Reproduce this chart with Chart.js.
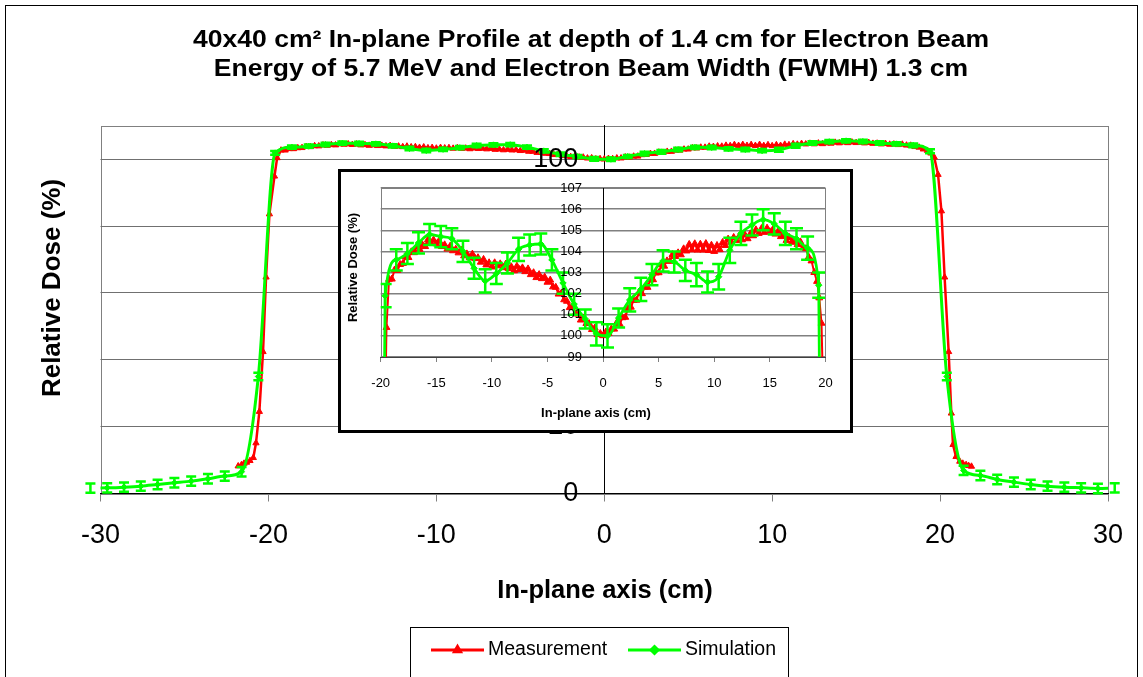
<!DOCTYPE html>
<html>
<head>
<meta charset="utf-8">
<script src="https://cdn.jsdelivr.net/npm/chart.js@4.4.1/dist/chart.umd.min.js"></script>
<style>
html,body{margin:0;padding:0;background:#fff;}
#wrap{position:relative;width:1143px;height:677px;overflow:hidden;background:#fff;}
#main{position:absolute;left:0;top:0;}
#insetBox{position:absolute;left:338px;top:169px;width:515px;height:264px;box-sizing:border-box;border:3px solid #000;background:#fff;}
#inset{position:absolute;left:0;top:0;}
</style>
</head>
<body>
<div id="wrap">
<canvas id="main" width="1143" height="677"></canvas>
<div id="insetBox"><canvas id="inset" width="509" height="258"></canvas></div>
</div>
<script>
const FONT = "'Liberation Sans', Arial, Helvetica, sans-serif";

// ---- text ----
const titleLines = [
  '40x40 cm\u00B2 In-plane Profile at depth of 1.4 cm for Electron Beam',
  'Energy of 5.7 MeV and Electron Beam Width (FWMH) 1.3 cm'
];
const xAxisTitle = 'In-plane axis (cm)';
const yAxisTitle = 'Relative Dose (%)';
const seriesNames = ['Measurement', 'Simulation'];

// ---- tick labels ----
const mainXTicks = [-30, -20, -10, 0, 10, 20, 30];
const mainYTicks = [0, 20, 40, 60, 80, 100];
const insetXTicks = [-20, -15, -10, -5, 0, 5, 10, 15, 20];
const insetYTicks = [99, 100, 101, 102, 103, 104, 105, 106, 107];

// ---- Measurement series ----
const measX = [
  -21.8,-21.6,-21.45,-21.3,-21.1,-20.9,-20.74,-20.54,-20.32,-20.14,-19.94,-19.64,-19.48,
  -19.25,-19,-18.75,-18.5,-18.25,-18,-17.75,-17.5,-17.25,-17,
  -16.75,-16.5,-16.25,-16,-15.75,-15.5,-15.25,-15,-14.75,-14.5,
  -14.25,-14,-13.75,-13.5,-13.25,-13,-12.75,-12.5,-12.25,-12,
  -11.75,-11.5,-11.25,-11,-10.75,-10.5,-10.25,-10,-9.75,-9.5,
  -9.25,-9,-8.75,-8.5,-8.25,-8,-7.75,-7.5,-7.25,-7,
  -6.75,-6.5,-6.25,-6,-5.75,-5.5,-5.25,-5,-4.75,-4.5,
  -4.25,-4,-3.75,-3.5,-3.25,-3,-2.75,-2.5,-2.25,-2,
  -1.75,-1.5,-1.25,-1,-0.75,-0.5,-0.25,0,0.25,0.5,
  0.75,1,1.25,1.5,1.75,2,2.25,2.5,2.75,3,
  3.25,3.5,3.75,4,4.25,4.5,4.75,5,5.25,5.5,
  5.75,6,6.25,6.5,6.75,7,7.25,7.5,7.75,8,
  8.25,8.5,8.75,9,9.25,9.5,9.75,10,10.25,10.5,
  10.75,11,11.25,11.5,11.75,12,12.25,12.5,12.75,13,
  13.25,13.5,13.75,14,14.25,14.5,14.75,15,15.25,15.5,
  15.75,16,16.25,16.5,16.75,17,17.25,17.5,17.75,18,
  18.25,18.5,18.75,19,19.25,
  19.45,19.65,19.88,20.08,20.27,20.51,20.67,20.77,20.95,21.17,21.35,21.55,21.7,21.87
];
const measY = [
  8.2,8.6,9.0,9.3,9.8,10.7,15.1,24.5,42.4,64.7,83.6,94.9,100.4,
  102.68,102.69,103.12,103.10,103.38,103.43,103.75,103.71,103.98,103.94,
  104.22,104.10,104.31,104.23,104.55,104.43,104.54,104.36,104.50,104.23,
  104.31,104.11,104.25,104.03,104.10,103.93,104.05,103.79,103.88,103.70,
  103.87,103.66,103.70,103.49,103.62,103.36,103.46,103.26,103.46,103.32,
  103.41,103.23,103.40,103.18,103.27,103.08,103.30,103.14,103.22,103.04,
  103.17,102.90,102.99,102.76,102.90,102.71,102.78,102.54,102.64,102.32,
  102.30,101.98,102.02,101.71,101.64,101.34,101.39,101.05,101.03,100.75,
  100.85,100.59,100.58,100.30,100.37,100.06,100.11,100.01,100.18,100.12,
  100.33,100.32,100.64,100.55,100.86,100.88,101.30,101.36,101.68,101.69,
  102.07,102.00,102.30,102.30,102.65,102.66,102.98,102.99,103.37,103.30,
  103.55,103.53,103.85,103.76,103.93,103.84,104.12,104.02,104.33,104.07,
  104.36,104.06,104.34,104.06,104.37,104.04,104.29,104.00,104.28,104.08,
  104.42,104.28,104.58,104.43,104.66,104.52,104.72,104.55,104.79,104.60,
  104.83,104.74,105.02,104.85,105.08,104.90,105.10,104.93,105.01,104.82,
  104.96,104.70,104.75,104.52,104.66,104.43,104.50,104.32,104.45,104.17,
  104.13,103.73,103.55,103.00,102.58,
  101.8,100.6,95.4,84.5,64.7,42.4,24.0,14.6,11.0,9.6,9.0,8.6,8.3,8.1
];

// ---- Simulation series (with error bars) ----
const simX = [
  -30.6,-29.6,-28.6,-27.6,-26.6,-25.6,-24.6,-23.6,-22.6,-21.6,
  -20.6,
  -19.6,-18.6,-17.6,-16.6,-15.6,-14.6,-13.6,-12.6,-11.6,-10.6,
  -9.6,-8.6,-7.6,-6.6,-5.6,-4.6,-3.6,-2.6,-1.6,-0.6,
  0.4,1.4,2.4,3.4,4.4,5.4,6.4,7.4,8.4,9.4,
  10.4,11.4,12.4,13.4,14.4,15.4,16.4,17.4,18.4,19.4,
  20.4,
  21.4,22.4,23.4,24.4,25.4,26.4,27.4,28.4,29.4,30.4
];
const simY = [
  1.6,1.7,1.9,2.2,2.7,3.2,3.7,4.4,5.2,6.5,
  35.0,
  101.9,103.6,103.9,104.4,104.8,104.7,104.6,104.0,103.2,102.6,
  102.95,103.45,104.1,104.3,104.35,103.6,102.5,101.5,100.8,100.1,
  100.0,100.85,101.7,102.2,102.9,103.55,103.5,103.1,102.9,102.55,
  102.8,104.05,104.85,105.25,105.5,105.3,104.85,104.6,104.15,102.4,
  35.0,
  6.9,5.4,4.2,3.4,2.7,2.2,1.9,1.7,1.5,1.7
];
const simErr = [
  1.4,1.4,1.4,1.4,1.4,1.4,1.4,1.4,1.4,1.4,
  1.1,
  0.55,0.5,0.5,0.5,0.5,0.5,0.5,0.5,0.5,0.55,
  0.5,0.5,0.55,0.5,0.5,0.5,0.5,0.5,0.45,0.55,
  0.55,0.45,0.55,0.55,0.5,0.5,0.5,0.5,0.55,0.5,
  0.6,0.6,0.55,0.5,0.5,0.5,0.55,0.5,0.55,0.6,
  1.1,
  1.4,1.4,1.4,1.4,1.4,1.4,1.4,1.4,1.4,1.4
];

const seriesColors = ['#FF0000', '#00FF00'];

Chart.defaults.font.family = FONT;
Chart.defaults.color = '#000';

const measPoints = () => measX.map((x, i) => ({x: x, y: measY[i]}));
const simPoints = () => simX.map((x, i) => ({x: x, y: simY[i]}));

// ---- plugins ----
const errorBars = {
  id: 'errorBars',
  afterDatasetsDraw(chart, args, opts) {
    const ctx = chart.ctx, a = chart.chartArea;
    ctx.save();
    if (opts.clip) {
      ctx.beginPath();
      ctx.rect(a.left, a.top, a.right - a.left, a.bottom - a.top);
      ctx.clip();
    }
    chart.data.datasets.forEach((ds, di) => {
      if (!ds.errors) return;
      const meta = chart.getDatasetMeta(di);
      const xs = chart.scales[meta.xAxisID], ys = chart.scales[meta.yAxisID];
      ctx.strokeStyle = ds.borderColor;
      ctx.lineWidth = opts.lineWidth;
      ds.data.forEach((p, i) => {
        const e = ds.errors[i];
        const px = xs.getPixelForValue(p.x);
        const y1 = ys.getPixelForValue(p.y + e), y2 = ys.getPixelForValue(p.y - e);
        ctx.beginPath();
        ctx.moveTo(px, y1); ctx.lineTo(px, y2);
        ctx.moveTo(px - opts.cap, y1); ctx.lineTo(px + opts.cap, y1);
        ctx.moveTo(px - opts.cap, y2); ctx.lineTo(px + opts.cap, y2);
        ctx.stroke();
      });
    });
    ctx.restore();
  }
};

function plotFrame(chart, color) {
  const ctx = chart.ctx, a = chart.chartArea;
  ctx.save();
  ctx.fillStyle = '#fff';
  ctx.fillRect(0, 0, chart.width, chart.height);
  ctx.strokeStyle = color;
  ctx.lineWidth = 1;
  ctx.strokeRect(Math.round(a.left) + 0.5, Math.round(a.top) + 0.5,
                 Math.round(a.right) - Math.round(a.left), Math.round(a.bottom) - Math.round(a.top));
  ctx.restore();
}

function drawText(ctx, text, x, y, font, rot, targetW) {
  ctx.save();
  ctx.font = font;
  ctx.fillStyle = '#000';
  ctx.textAlign = 'center';
  ctx.textBaseline = 'middle';
  ctx.translate(x, y);
  if (rot) ctx.rotate(rot);
  if (targetW) {
    const w = ctx.measureText(text).width;
    ctx.scale(targetW / w, 1);
  }
  ctx.fillText(text, 0, 0);
  ctx.restore();
}

// y tick labels next to the centred y axis (value axis crosses at x = 0)
function drawYTickLabels(chart, values, gap, font) {
  const ctx = chart.ctx, xs = chart.scales.x, ys = chart.scales.y;
  const ax = xs.getPixelForValue(0);
  ctx.save();
  ctx.font = font;
  ctx.fillStyle = '#000';
  ctx.textAlign = 'right';
  ctx.textBaseline = 'middle';
  values.forEach(v => ctx.fillText(String(v), ax - gap, ys.getPixelForValue(v)));
  ctx.restore();
}

const mainDecor = {
  id: 'mainDecor',
  beforeDraw(chart) { plotFrame(chart, '#808080'); },
  afterDraw(chart) {
    const ctx = chart.ctx;
    drawYTickLabels(chart, mainYTicks, 26, '27px ' + FONT);
    // title
    ctx.save();
    ctx.font = 'bold 24px ' + FONT;
    const w1 = ctx.measureText(titleLines[0]).width;
    const w2 = ctx.measureText(titleLines[1]).width;
    ctx.restore();
    const sx = 796 / w1;
    drawText(ctx, titleLines[0], 591, 40.5, 'bold 24px ' + FONT, 0, w1 * sx);
    drawText(ctx, titleLines[1], 591, 69, 'bold 24px ' + FONT, 0, w2 * sx);
    // axis titles
    drawText(ctx, yAxisTitle, 52.5, 288, 'bold 26px ' + FONT, -Math.PI / 2);
    drawText(ctx, xAxisTitle, 605, 591, 'bold 25.5px ' + FONT, 0);
    // legend
    ctx.save();
    ctx.strokeStyle = '#000';
    ctx.lineWidth = 1;
    ctx.strokeRect(410.5, 627.5, 378, 80);
    const items = [
      {x0: 431, x1: 484, tx: 488},
      {x0: 628, x1: 681, tx: 685}
    ];
    chart.data.datasets.forEach((ds, i) => {
      const it = items[i], ly = 650;
      ctx.strokeStyle = ds.borderColor;
      ctx.fillStyle = ds.borderColor;
      ctx.lineWidth = 3;
      ctx.beginPath();
      ctx.moveTo(it.x0, ly); ctx.lineTo(it.x1, ly);
      ctx.stroke();
      Chart.helpers.drawPoint(ctx, {pointStyle: ds.pointStyle, radius: 3.5, borderWidth: 1, rotation: 0}, (it.x0 + it.x1) / 2, ly);
      ctx.fillStyle = '#000';
      ctx.font = '19.5px ' + FONT;
      ctx.textAlign = 'left';
      ctx.textBaseline = 'middle';
      ctx.fillText(ds.label, it.tx, ly);
    });
    // outer border
    ctx.strokeStyle = '#000';
    ctx.lineWidth = 1;
    ctx.strokeRect(5.5, 5.5, 1132, 700);
    ctx.restore();
  }
};

const insetDecor = {
  id: 'insetDecor',
  beforeDraw(chart) { plotFrame(chart, '#808080'); },
  afterDraw(chart) {
    const ctx = chart.ctx;
    drawYTickLabels(chart, insetYTicks, 21, '13px ' + FONT);
    drawText(ctx, xAxisTitle, 255, 241.3, 'bold 13px ' + FONT, 0);
    drawText(ctx, yAxisTitle, 12.5, 95.5, 'bold 13px ' + FONT, -Math.PI / 2);
  }
};

function fitArea(chart, target) {
  for (let k = 0; k < 4; k++) {
    const a = chart.chartArea;
    const p = chart.options.layout.padding;
    p.left += target.left - a.left;
    p.top += target.top - a.top;
    p.right += a.right - target.right;
    p.bottom += a.bottom - target.bottom;
    chart.update('none');
  }
}

// ---- main chart ----
const mainChart = new Chart(document.getElementById('main'), {
  type: 'scatter',
  data: {
    datasets: [
      {
        label: seriesNames[0], data: measPoints(), showLine: true,
        borderColor: seriesColors[0], backgroundColor: seriesColors[0],
        pointBackgroundColor: seriesColors[0], pointBorderColor: seriesColors[0],
        borderWidth: 2.5, pointStyle: 'triangle', pointRadius: 3.6, pointBorderWidth: 1,
        tension: 0, order: 1
      },
      {
        label: seriesNames[1], data: simPoints(), showLine: true, errors: simErr,
        borderColor: seriesColors[1], backgroundColor: seriesColors[1],
        pointBackgroundColor: seriesColors[1], pointBorderColor: seriesColors[1],
        borderWidth: 3, pointStyle: 'rectRot', pointRadius: 3, pointBorderWidth: 1,
        cubicInterpolationMode: 'monotone', order: 0
      }
    ]
  },
  options: {
    responsive: false, animation: false, events: [],
    layout: {padding: {left: 100, right: 35, top: 126, bottom: 120}},
    plugins: {
      legend: {display: false}, tooltip: {enabled: false}, title: {display: false},
      errorBars: {lineWidth: 2.5, cap: 5, clip: false}
    },
    scales: {
      x: {
        type: 'linear', position: 'bottom', min: -30, max: 30,
        afterBuildTicks: s => { s.ticks = mainXTicks.map(v => ({value: v})); },
        ticks: {font: {size: 27}, color: '#000', padding: 18, autoSkip: false, maxRotation: 0},
        grid: {drawOnChartArea: false, drawTicks: true, tickLength: 8, tickColor: '#808080', color: '#808080'},
        border: {display: true, color: '#000', width: 1}
      },
      y: {
        type: 'linear', position: {x: 0}, min: 0, max: 110,
        afterBuildTicks: s => { s.ticks = mainYTicks.map(v => ({value: v})); },
        ticks: {display: false},
        grid: {color: '#707070', lineWidth: 1, drawTicks: false},
        border: {display: true, color: '#000', width: 1}
      }
    }
  },
  plugins: [mainDecor, errorBars]
});
fitArea(mainChart, {left: 100.5, right: 1108, top: 125.8, bottom: 493.5});

// ---- inset chart ----
const insetChart = new Chart(document.getElementById('inset'), {
  type: 'scatter',
  data: {
    datasets: [
      {
        label: seriesNames[0], data: measPoints(), showLine: true,
        borderColor: seriesColors[0], backgroundColor: seriesColors[0],
        pointBackgroundColor: seriesColors[0], pointBorderColor: seriesColors[0],
        borderWidth: 2, pointStyle: 'triangle', pointRadius: 4, pointBorderWidth: 1,
        tension: 0, order: 1
      },
      {
        label: seriesNames[1], data: simPoints(), showLine: true, errors: simErr,
        borderColor: seriesColors[1], backgroundColor: seriesColors[1],
        pointBackgroundColor: seriesColors[1], pointBorderColor: seriesColors[1],
        borderWidth: 2.8, pointStyle: 'rectRot', pointRadius: 3.2, pointBorderWidth: 1,
        cubicInterpolationMode: 'monotone', order: 0
      }
    ]
  },
  options: {
    responsive: false, animation: false, events: [],
    layout: {padding: {left: 40, right: 25, top: 16, bottom: 40}},
    plugins: {
      legend: {display: false}, tooltip: {enabled: false}, title: {display: false},
      errorBars: {lineWidth: 2.5, cap: 6.5, clip: true}
    },
    scales: {
      x: {
        type: 'linear', position: 'bottom', min: -20, max: 20,
        afterBuildTicks: s => { s.ticks = insetXTicks.map(v => ({value: v})); },
        ticks: {font: {size: 13}, color: '#000', padding: 13.5, autoSkip: false, maxRotation: 0},
        grid: {drawOnChartArea: false, drawTicks: true, tickLength: 5, tickColor: '#808080', color: '#808080'},
        border: {display: true, color: '#404040', width: 1}
      },
      y: {
        type: 'linear', position: {x: 0}, min: 99, max: 107,
        afterBuildTicks: s => { s.ticks = insetYTicks.map(v => ({value: v})); },
        ticks: {display: false},
        grid: {color: '#808080', lineWidth: 1.5, drawTicks: false},
        border: {display: true, color: '#000', width: 1}
      }
    }
  },
  plugins: [insetDecor, errorBars]
});
fitArea(insetChart, {left: 39.7, right: 484.4, top: 16, bottom: 185});
</script>
</body>
</html>
